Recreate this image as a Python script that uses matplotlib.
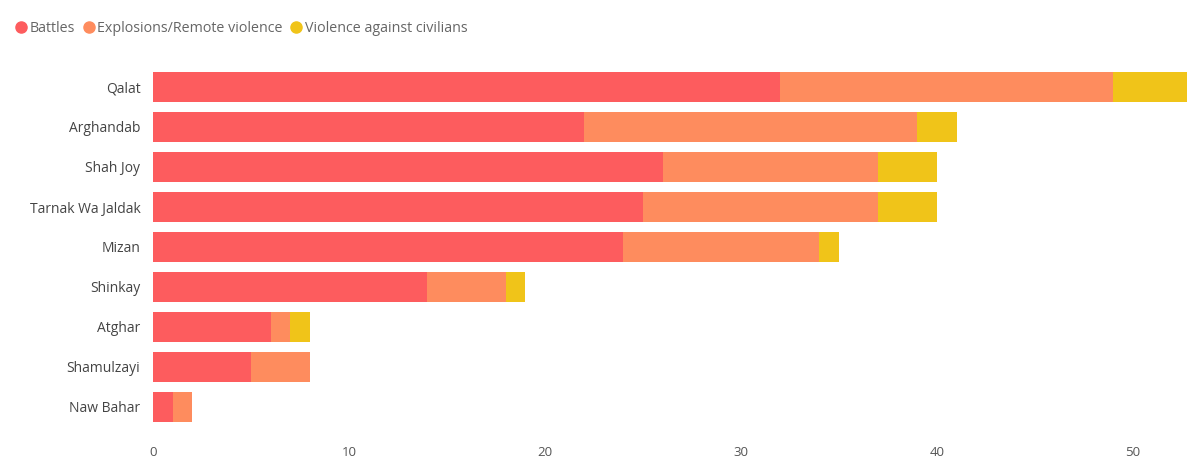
import matplotlib
matplotlib.use("Agg")
import matplotlib.pyplot as plt
from matplotlib.lines import Line2D
import numpy as np

plt.rcParams['font.family'] = ['Open Sans', 'DejaVu Sans']

districts = ["Qalat", "Arghandab", "Shah Joy", "Tarnak Wa Jaldak", "Mizan",
             "Shinkay", "Atghar", "Shamulzayi", "Naw Bahar"]
battles = [32, 22, 26, 25, 24, 14, 6, 5, 1]
explosions = [17, 17, 11, 12, 10, 4, 1, 3, 1]
violence = [4, 2, 3, 3, 1, 1, 1, 0, 0]
series_names = ["Battles", "Explosions/Remote violence", "Violence against civilians"]
colors = ["#FD5C5E", "#FE8C5E", "#F0C419"]
xticks = [0, 10, 20, 30, 40, 50]

fig = plt.figure(figsize=(11.87, 4.59), dpi=100)
ax = fig.add_axes([153/1187, 32/459, 1 - 153/1187, 360/459])

y = np.arange(len(districts))
b = np.array(battles, dtype=float)
e = np.array(explosions, dtype=float)
v = np.array(violence, dtype=float)
ax.barh(y, b, height=0.75, color=colors[0], linewidth=0)
ax.barh(y, e, left=b, height=0.75, color=colors[1], linewidth=0)
ax.barh(y, v, left=b + e, height=0.75, color=colors[2], linewidth=0)

ax.set_ylim(len(districts) - 0.5, -0.5)
ax.set_xlim(0, 52.76)
ax.set_yticks(y)
ax.set_yticklabels(districts)
ax.set_xticks(xticks)
ax.set_xticklabels([str(t) for t in xticks])
ax.tick_params(axis='y', length=0, pad=9, labelsize=10, labelcolor="#444444")
ax.tick_params(axis='x', length=0, pad=14, labelsize=9.5, labelcolor="#555555")
for s in ax.spines.values():
    s.set_visible(False)

handles = [Line2D([0], [0], marker='o', linestyle='none', markersize=8,
                  markerfacecolor=c, markeredgecolor=c) for c in colors]
fig.legend(handles, series_names, loc='upper left', bbox_to_anchor=(-0.005, 0.995),
           ncol=3, frameon=False, handletextpad=0.0, columnspacing=0.35,
           handlelength=1.2, fontsize=10.3, labelcolor="#666666",
           borderaxespad=0.9)

fig.savefig("out.png", dpi=100)
